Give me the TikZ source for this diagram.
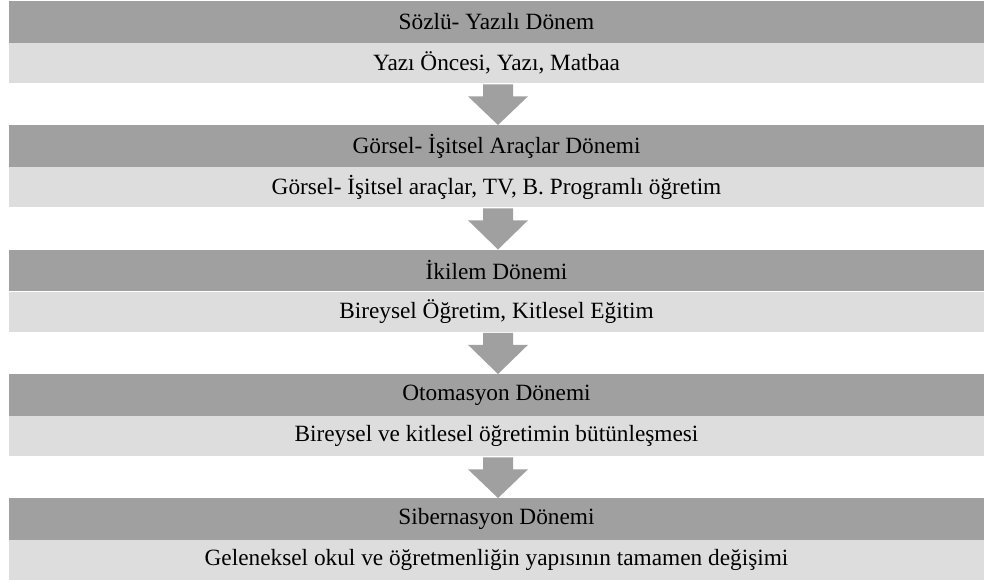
\documentclass[tikz,border=0pt]{standalone}
\usepackage{fontspec}
\setmainfont{Liberation Serif}
\usetikzlibrary{calc}
\definecolor{bandDark}{HTML}{A0A0A0}
\definecolor{bandLight}{HTML}{DDDDDD}
\definecolor{arrowGray}{HTML}{A0A0A0}
\tikzset{
  period/.style={fill=bandDark, minimum width=975pt, minimum height=41.5pt,
    inner sep=0pt, anchor=north, font=\fontsize{23.3}{26}\selectfont},
  content/.style={fill=bandLight, minimum width=975pt, minimum height=40pt,
    inner sep=0pt, anchor=north, font=\fontsize{23.3}{26}\selectfont},
  downarrow/.style={fill=arrowGray}
}
% block arrow from the bottom of one band to the top of the next
\newcommand{\downarrowshape}[2]{%
  \fill[downarrow] ($(#1.south)+(-13.5,1)$) -- ($(#1.south)+(16.5,1)$)
    -- ($(#1.south)+(16.5,13)$) -- ($(#1.south)+(31.5,13)$)
    -- ($(#2.north)+(1.5,0)$)
    -- ($(#1.south)+(-28.5,13)$) -- ($(#1.south)+(-13.5,13)$) -- cycle;}
\begin{document}
\begin{tikzpicture}[x=1pt,y=-1pt]
\useasboundingbox (0,0) rectangle (984,581);
\node[period]  (d1) at (496.5,1)     {Sözlü- Yazılı Dönem};
\node[content] (l1) at (d1.south)    {Yazı Öncesi, Yazı, Matbaa};
\node[period]  (d2) at (496.5,125)   {Görsel- İşitsel Araçlar Dönemi};
\node[content] (l2) at (d2.south)    {Görsel- İşitsel araçlar, TV, B. Programlı öğretim};
\node[period]  (d3) at (496.5,249.5) {İkilem Dönemi};
\node[content] (l3) at (d3.south)    {Bireysel Öğretim, Kitlesel Eğitim};
\node[period]  (d4) at (496.5,374)   {Otomasyon Dönemi};
\node[content] (l4) at (d4.south)    {Bireysel ve kitlesel öğretimin bütünleşmesi};
\node[period]  (d5) at (496.5,498)   {Sibernasyon Dönemi};
\node[content] (l5) at (d5.south)    {Geleneksel okul ve öğretmenliğin yapısının tamamen değişimi};
\downarrowshape{l1}{d2}
\downarrowshape{l2}{d3}
\downarrowshape{l3}{d4}
\downarrowshape{l4}{d5}
\end{tikzpicture}
\end{document}
